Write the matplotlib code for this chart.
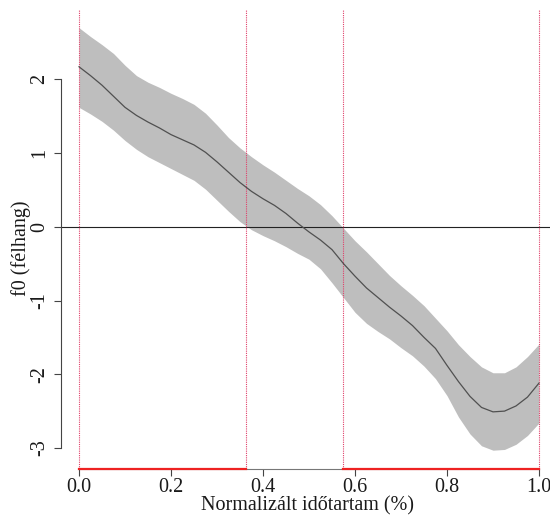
import matplotlib
matplotlib.use("Agg")
import matplotlib.pyplot as plt

# Normalized time (x) positions where values were read
time = [0.000, 0.025, 0.050, 0.075, 0.100, 0.125, 0.150, 0.175, 0.200, 0.225,
        0.250, 0.275, 0.300, 0.325, 0.350, 0.375, 0.400, 0.425, 0.450, 0.475,
        0.500, 0.525, 0.550, 0.575, 0.600, 0.625, 0.650, 0.675, 0.700, 0.725,
        0.750, 0.775, 0.800, 0.825, 0.850, 0.875, 0.900, 0.925, 0.950, 0.975,
        1.000]
# f0 mean curve (semitones)
f0_mean = [2.17, 2.05, 1.92, 1.77, 1.62, 1.51, 1.42, 1.34, 1.25, 1.18,
           1.11, 1.01, 0.88, 0.74, 0.60, 0.48, 0.38, 0.29, 0.18, 0.05,
           -0.07, -0.18, -0.31, -0.50, -0.67, -0.83, -0.96, -1.09, -1.21, -1.34,
           -1.50, -1.65, -1.88, -2.10, -2.30, -2.45, -2.51, -2.50, -2.43, -2.31,
           -2.12]
# confidence band
f0_upper = [2.70, 2.58, 2.47, 2.35, 2.19, 2.05, 1.96, 1.89, 1.81, 1.74,
            1.66, 1.54, 1.38, 1.21, 1.07, 0.95, 0.84, 0.74, 0.63, 0.52,
            0.42, 0.30, 0.15, -0.02, -0.19, -0.34, -0.50, -0.66, -0.80, -0.93,
            -1.07, -1.24, -1.41, -1.60, -1.76, -1.90, -1.98, -1.98, -1.90, -1.76,
            -1.59]
f0_lower = [1.62, 1.53, 1.43, 1.31, 1.17, 1.05, 0.95, 0.87, 0.79, 0.71,
            0.63, 0.51, 0.36, 0.21, 0.07, -0.04, -0.12, -0.19, -0.27, -0.36,
            -0.44, -0.57, -0.76, -0.96, -1.16, -1.31, -1.42, -1.52, -1.64, -1.75,
            -1.89, -2.06, -2.29, -2.58, -2.81, -2.97, -3.03, -3.02, -2.95, -2.83,
            -2.66]

# vertical boundaries and significant regions
boundaries = [0.0, 0.363, 0.574, 1.0]
sig_regions = [(0.0, 0.363), (0.574, 1.0)]

xticks = [0.0, 0.2, 0.4, 0.6, 0.8, 1.0]
xticklabels = ["0.0", "0.2", "0.4", "0.6", "0.8", "1.0"]
yticks = [-3, -2, -1, 0, 1, 2]
yticklabels = ["-3", "-2", "-1", "0", "1", "2"]

plt.rcParams['font.family'] = ['Liberation Serif', 'DejaVu Serif']

fig = plt.figure(figsize=(5.5, 5.22), dpi=100)
ax = fig.add_axes([60.6 / 550, 53 / 522, (557.4 - 60.6) / 550, 459 / 522])

ax.fill_between(time, f0_lower, f0_upper, color='#bebebe', linewidth=0, zorder=1)
ax.plot(time, f0_mean, color='#505050', lw=0.9, zorder=3)
ax.axhline(0, color='#222222', lw=0.8, zorder=2)
for b in boundaries:
    ax.axvline(b, color='#e0406a', lw=0.8, ls=(0, (1, 1)), zorder=2)

ax.set_xlim(-0.04, 1.04)
ax.set_ylim(-3.285, 2.94)

for a, b in sig_regions:
    ax.plot([a, b], [-3.285, -3.285], color='#ee2222', lw=1.6, clip_on=False, zorder=5)

for s in ['top', 'right']:
    ax.spines[s].set_visible(False)
ax.spines['left'].set_bounds(-3, 2)
ax.spines['bottom'].set_bounds(0, 1)
ax.spines['left'].set_color('#444444')
ax.spines['bottom'].set_color('#777777')
ax.spines['left'].set_linewidth(0.8)
ax.spines['bottom'].set_linewidth(0.8)

ax.set_xticks(xticks)
ax.set_xticklabels(xticklabels)
ax.set_yticks(yticks)
ax.set_yticklabels(yticklabels, rotation=90, va='center')
ax.tick_params(axis='both', length=5, width=0.8, color='#444444', labelsize=14.5, labelcolor='#1a1a1a')
ax.tick_params(axis='x', pad=1.5)
ax.tick_params(axis='y', pad=3)

ax.set_xlabel("Normalizált időtartam (%)", fontsize=14.5, color='#1a1a1a')
ax.xaxis.set_label_coords(0.496, -0.080)
ax.xaxis.label.set_va('center')
ax.set_ylabel("f0 (félhang)", fontsize=14.5, color='#1a1a1a')
ax.yaxis.set_label_coords(-0.080, 0.4815)
ax.yaxis.label.set_va('center')

fig.savefig("out.png", dpi=100)
